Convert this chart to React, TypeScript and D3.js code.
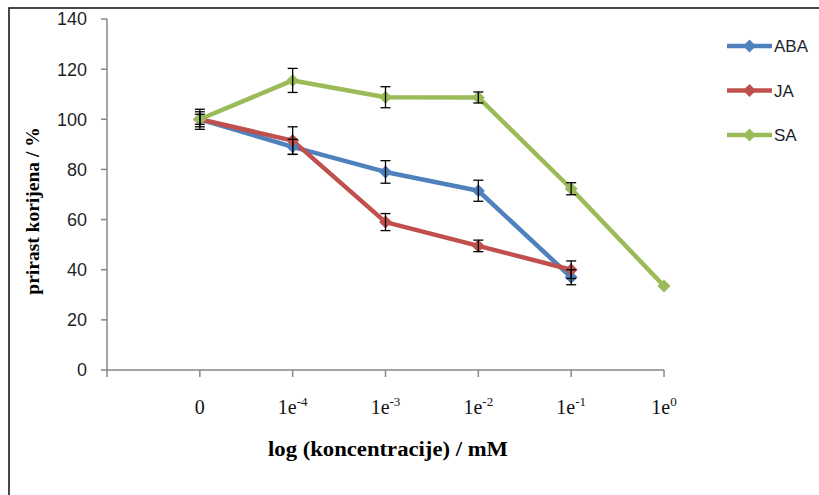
import React from "react"
import * as d3 from "d3"

// x categories (log concentration, mM) and their tick text
const categories = ["0", "1e-4", "1e-3", "1e-2", "1e-1", "1e0"]
const tickBase = ["0", "1e", "1e", "1e", "1e", "1e"]
const tickExp = ["", "-4", "-3", "-2", "-1", "0"]

// root growth, % of control
const aba = [100, 89, 79, 71.5, 37]
const abaErr = [4, 3, 4.5, 4.2, 3]
const ja = [100, 91.5, 59, 49.5, 40]
const jaErr = [3, 5.5, 3.4, 2.3, 3.5]
const sa = [100, 115.5, 108.8, 108.7, 72.3, 33.5]
const saErr = [2, 4.8, 4.2, 2.2, 2.4, 0]

const yTicks = [0, 20, 40, 60, 80, 100, 120, 140]

const series = [
  { name: "ABA", values: aba, err: abaErr, color: "#4F81BD" },
  { name: "JA", values: ja, err: jaErr, color: "#C0504D" },
  { name: "SA", values: sa, err: saErr, color: "#9BBB59" },
]

const W = 819
const H = 495
const left = 107
const right = 664
const top = 19
const bottom = 370

const diamond = "M0,-6.5L6.5,0L0,6.5L-6.5,0Z"

const App = () => {
  const x = d3.scalePoint<string>().domain(["", ...categories]).range([left, right])
  const y = d3.scaleLinear().domain([0, 140]).range([bottom, top])

  const line = d3
    .line<number>()
    .x((d, i) => x(categories[i]) as number)
    .y(d => y(d))

  const serif = "'Liberation Serif', 'Times New Roman', serif"
  const sans = "'Liberation Sans', Arial, sans-serif"

  return (
    <svg
      width={W}
      height={H}
      style={{ position: "absolute", left: 0, top: 0, background: "#fff" }}
    >
      <rect x={0} y={0} width={W} height={H} fill="#fff" />
      {/* outer frame, only left and top are inside the picture */}
      <rect x={9} y={8} width={W + 20} height={H + 20} fill="none" stroke="#1a1a1a" strokeWidth={1.6} />

      {/* y axis */}
      <line x1={left} x2={left} y1={top} y2={bottom} stroke="#878787" strokeWidth={1.5} />
      {yTicks.map(t => (
        <g key={t}>
          <line x1={left - 6} x2={left} y1={y(t)} y2={y(t)} stroke="#878787" strokeWidth={1.5} />
          <text
            x={87}
            y={y(t)}
            dy="0.36em"
            textAnchor="end"
            fontFamily={sans}
            fontSize={18}
            fill="#1f1f2a"
          >
            {t}
          </text>
        </g>
      ))}

      {/* x axis */}
      <line x1={left} x2={right} y1={bottom} y2={bottom} stroke="#878787" strokeWidth={1.5} />
      {x.domain().map(c => (
        <line
          key={"t" + c}
          x1={x(c)}
          x2={x(c)}
          y1={bottom}
          y2={bottom + 7}
          stroke="#878787"
          strokeWidth={1.5}
        />
      ))}
      {categories.map((c, i) => (
        <text
          key={c}
          x={x(c)}
          y={414}
          textAnchor="middle"
          fontFamily={serif}
          fontSize={20}
          fill="#111"
        >
          {tickBase[i]}
          {tickExp[i] && (
            <tspan dy={-8} fontSize={13}>
              {tickExp[i]}
            </tspan>
          )}
        </text>
      ))}

      {/* lines */}
      {series.map(s => (
        <path
          key={s.name}
          d={line(s.values) || ""}
          fill="none"
          stroke={s.color}
          strokeWidth={4.5}
          strokeLinejoin="round"
        />
      ))}
      {series.map(s =>
        s.values.map((v, i) => (
          <path
            key={s.name + i}
            d={diamond}
            transform={`translate(${x(categories[i])},${y(v)})`}
            fill={s.color}
          />
        ))
      )}

      {/* error bars */}
      {series.map(s =>
        s.values.map((v, i) =>
          s.err[i] > 0 ? (
            <g key={"e" + s.name + i} stroke="#000" strokeWidth={1.3}>
              <line
                x1={x(categories[i])}
                x2={x(categories[i])}
                y1={y(v + s.err[i])}
                y2={y(v - s.err[i])}
              />
              <line
                x1={(x(categories[i]) as number) - 5}
                x2={(x(categories[i]) as number) + 5}
                y1={y(v + s.err[i])}
                y2={y(v + s.err[i])}
              />
              <line
                x1={(x(categories[i]) as number) - 5}
                x2={(x(categories[i]) as number) + 5}
                y1={y(v - s.err[i])}
                y2={y(v - s.err[i])}
              />
            </g>
          ) : null
        )
      )}

      {/* legend */}
      {series.map((s, i) => {
        const ly = 46 + i * 44.5
        return (
          <g key={"l" + s.name}>
            <line x1={727} x2={772} y1={ly} y2={ly} stroke={s.color} strokeWidth={4.5} />
            <path d={diamond} transform={`translate(749.5,${ly})`} fill={s.color} />
            <text x={774} y={ly} dy="0.36em" fontFamily={sans} fontSize={17} fill="#1f1f2a">
              {s.name}
            </text>
          </g>
        )
      })}

      {/* axis titles */}
      <text
        x={388}
        y={456}
        textAnchor="middle"
        fontFamily={serif}
        fontWeight="bold"
        fontSize={20}
        textLength={240}
        lengthAdjust="spacingAndGlyphs"
        fill="#000"
      >
        log (koncentracije) / mM
      </text>
      <text
        transform="translate(39,211) rotate(-90)"
        textAnchor="middle"
        fontFamily={serif}
        fontWeight="bold"
        fontSize={19.5}
        fill="#000"
      >
        prirast korijena / %
      </text>
    </svg>
  )
}

export default App
